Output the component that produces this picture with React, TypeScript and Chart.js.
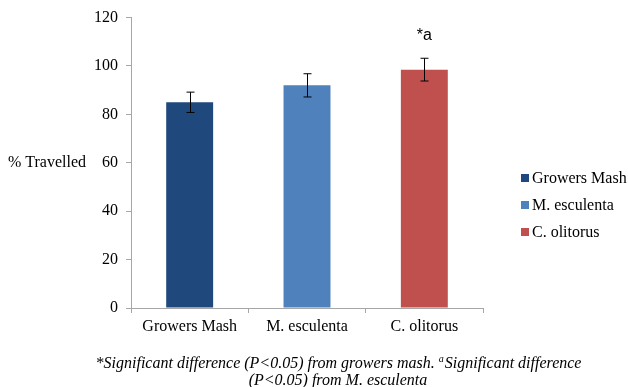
import React, { useEffect, useRef } from "react";
import { Chart, registerables } from "chart.js";

Chart.register(...registerables);

const categories = ["Growers Mash", "M. esculenta", "C. olitorus"];
const values = [85, 92, 98.5];
const errors = [4.2, 4.8, 4.7];
const annotations = ["", "", "*a"];
const yTitle = "% Travelled";
const footLine1a = "*Significant difference (P<0.05) from growers mash. ";
const footSup = "a";
const footLine1b = "Significant difference";
const footLine2 = "(P<0.05) from M. esculenta";

const barColors = ["#1F497D", "#4F81BD", "#C0504D"];
const axisColor = "#a6a6a6";
const serif = '"Liberation Serif", "Times New Roman", serif';

const extras = {
  id: "extras",
  afterDatasetsDraw(chart: any) {
    const ctx = chart.ctx;
    const meta = chart.getDatasetMeta(0);
    const y = chart.scales.y;
    ctx.save();
    ctx.strokeStyle = "#000";
    ctx.lineWidth = 1;
    meta.data.forEach((bar: any, i: number) => {
      const x = Math.round(bar.x) + 0.5;
      const yt = y.getPixelForValue(values[i] + errors[i]);
      const yb = y.getPixelForValue(values[i] - errors[i]);
      ctx.beginPath();
      ctx.moveTo(x, yt);
      ctx.lineTo(x, yb);
      ctx.moveTo(x - 4, yt);
      ctx.lineTo(x + 4, yt);
      ctx.moveTo(x - 4, yb);
      ctx.lineTo(x + 4, yb);
      ctx.stroke();
      if (annotations[i]) {
        ctx.fillStyle = "#000";
        ctx.font = '16px "Liberation Sans", Arial, sans-serif';
        ctx.textAlign = "center";
        ctx.textBaseline = "middle";
        ctx.fillText(annotations[i], bar.x, yt - 23);
      }
    });
    ctx.restore();
  },
  afterDraw(chart: any) {
    const ctx = chart.ctx;
    ctx.save();
    ctx.fillStyle = "#000";
    ctx.font = `16px ${serif}`;
    ctx.textAlign = "left";
    ctx.textBaseline = "middle";
    ctx.fillText(yTitle, 8, 163);

    // legend
    categories.forEach((c, i) => {
      const ly = 178 + i * 27;
      ctx.fillStyle = barColors[i];
      ctx.fillRect(521, ly - 4, 8, 8);
      ctx.fillStyle = "#000";
      ctx.fillText(c, 532, ly + 1);
    });

    // footnote
    ctx.font = `italic 16px ${serif}`;
    const wA = ctx.measureText(footLine1a).width;
    ctx.font = `italic 10px ${serif}`;
    const wS = ctx.measureText(footSup).width;
    ctx.font = `italic 16px ${serif}`;
    const wB = ctx.measureText(footLine1b).width;
    const total = wA + wS + wB;
    const cx = 338;
    let x0 = cx - total / 2;
    ctx.textBaseline = "alphabetic";
    ctx.fillText(footLine1a, x0, 368);
    ctx.font = `italic 10px ${serif}`;
    ctx.fillText(footSup, x0 + wA, 362);
    ctx.font = `italic 16px ${serif}`;
    ctx.fillText(footLine1b, x0 + wA + wS + 1, 368);
    ctx.textAlign = "center";
    ctx.fillText(footLine2, cx, 385);
    ctx.restore();
  },
};

export default function App() {
  const ref = useRef<HTMLCanvasElement>(null);
  useEffect(() => {
    if (!ref.current) return;
    const chart = new Chart(ref.current, {
      type: "bar",
      data: {
        labels: categories,
        datasets: [
          {
            data: values,
            backgroundColor: barColors,
            categoryPercentage: 1,
            barPercentage: 0.4,
          },
        ],
      },
      options: {
        animation: false,
        responsive: false,
        layout: { padding: { left: 0, right: 145, top: 17, bottom: 0 } },
        plugins: { legend: { display: false }, tooltip: { enabled: false } },
        scales: {
          x: {
            grid: { offset: true, drawOnChartArea: false, tickLength: 5, color: axisColor },
            border: { color: axisColor },
            ticks: { color: "#000", font: { family: serif, size: 16 }, padding: 4 },
            afterFit: (s: any) => {
              s.height = 79;
            },
          },
          y: {
            min: 0,
            max: 120,
            ticks: { stepSize: 20, color: "#000", font: { family: serif, size: 16 }, padding: 8 },
            grid: { drawOnChartArea: false, tickLength: 5, color: axisColor },
            border: { color: axisColor },
            afterFit: (s: any) => {
              s.width = 131;
            },
          },
        },
      },
      plugins: [extras],
    });
    return () => chart.destroy();
  }, []);
  return (
    <div style={{ position: "fixed", left: 0, top: 0, width: 628, height: 387, background: "#fff" }}>
      <canvas ref={ref} width={628} height={387} />
    </div>
  );
}
